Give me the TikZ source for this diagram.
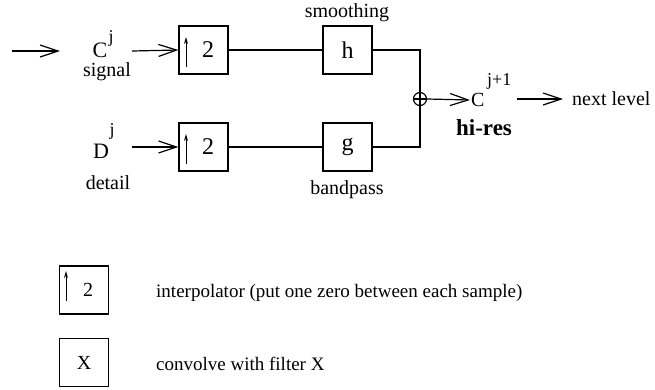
\documentclass[tikz,border=0pt]{standalone}
\usepackage{fontspec}
\setmainfont{Liberation Serif}
\usetikzlibrary{arrows.meta}
\begin{document}
\begin{tikzpicture}[x=1pt,y=-1pt,
  wire/.style={line width=1.2pt},
  flow/.style={line width=1.2pt,-{Straight Barb[length=18pt,width=12pt,line width=1.2pt]}},
  uparrow/.style={line width=1pt,-{Stealth[length=7pt,width=4pt]}},
  block/.style={draw,line width=1.2pt,minimum width=49pt,minimum height=48pt,inner sep=0pt,
                font=\fontsize{24}{28}\selectfont},
  legendbox/.style={block,font=\fontsize{20}{24}\selectfont},
  sym/.style={inner sep=0pt,font=\fontsize{22}{26}\selectfont},
  supscript/.style={inner sep=0pt,font=\fontsize{18}{21}\selectfont},
  lbl/.style={inner sep=0pt,font=\fontsize{20}{24}\selectfont},
  legendtext/.style={inner sep=0pt,font=\fontsize{19}{23}\selectfont},
  sumnode/.style={draw,circle,line width=1.2pt,minimum size=13pt,inner sep=0pt}]
\useasboundingbox (0,0) rectangle (655,389);

% ---- coarse signal branch ----
\coordinate (in0) at (12,51);
\coordinate (in1) at (60,51);
\node[sym] (C) at (100,50) {C};
\node[supscript,anchor=base] (Cj) at (111,42) {j};
\node[lbl,anchor=base] (signal) at (107,76) {signal};
\node[block] (up1) at (203.5,50) {\hspace{9pt}2};
\node[block] (h) at (347.5,50) {h};
\node[lbl,anchor=base] (smooth) at (347,17) {smoothing};
\coordinate (cin) at (132,51);

% ---- detail branch ----
\node[sym] (D) at (101,151) {D};
\node[supscript,anchor=base] (Dj) at (112,135) {j};
\node[lbl,anchor=base] (detail) at (108,189) {detail};
\node[block] (up2) at (203.5,147) {\hspace{9pt}2};
\node[block] (g) at (347.5,147) {g};
\node[lbl,anchor=base] (band) at (347,194) {bandpass};
\coordinate (din) at (132,147);

% ---- summation and output ----
\node[sumnode] (sum) at (420,99) {};
\draw[line width=1.2pt] (sum.west) -- (sum.east) (sum.north) -- (sum.south);
\node[sym,anchor=west,inner sep=1pt,font=\fontsize{20}{24}\selectfont] (Cn) at (470,100) {C};
\node[supscript,anchor=base west] (Cnj) at (487,85) {j+1};
\node[anchor=base,inner sep=0pt,font=\fontsize{23}{27}\selectfont\bfseries] (hires) at (484,135) {hi-res};
\coordinate (out0) at (517,99);
\coordinate (out1) at (563,99);
\node[lbl,anchor=base west] (next) at (572,105) {next level};

% up-sampling arrows inside the blocks
\coordinate (a1) at (186,67); \coordinate (a2) at (186,37);
\coordinate (a3) at (186,164); \coordinate (a4) at (186,134);
\draw[uparrow] (a1) -- (a2);
\draw[uparrow] (a3) -- (a4);

% connectors
\draw[flow] (in0) -- (in1);
\draw[flow] (cin) -- (up1.west);
\draw[flow] (din) -- (up2.west);
\draw[wire] (up1.east) -- (h.west);
\draw[wire] (up2.east) -- (g.west);
\draw[wire] (h.east) -| (sum.north);
\draw[wire] (g.east) -| (sum.south);
\draw[flow] (sum.east) -- (Cn.west);
\draw[flow] (out0) -- (out1);

% ---- legend ----
\node[legendbox] (L1) at (84,290) {\hspace{8pt}2};
\coordinate (a5) at (66,301); \coordinate (a6) at (66,271);
\draw[uparrow] (a5) -- (a6);
\node[legendtext,anchor=base west] (L1t) at (156,297) {interpolator (put one zero between each sample)};
\node[legendbox] (L2) at (84,362.5) {X};
\node[legendtext,anchor=base west] (L2t) at (156,370) {convolve with filter X};
\end{tikzpicture}
\end{document}
